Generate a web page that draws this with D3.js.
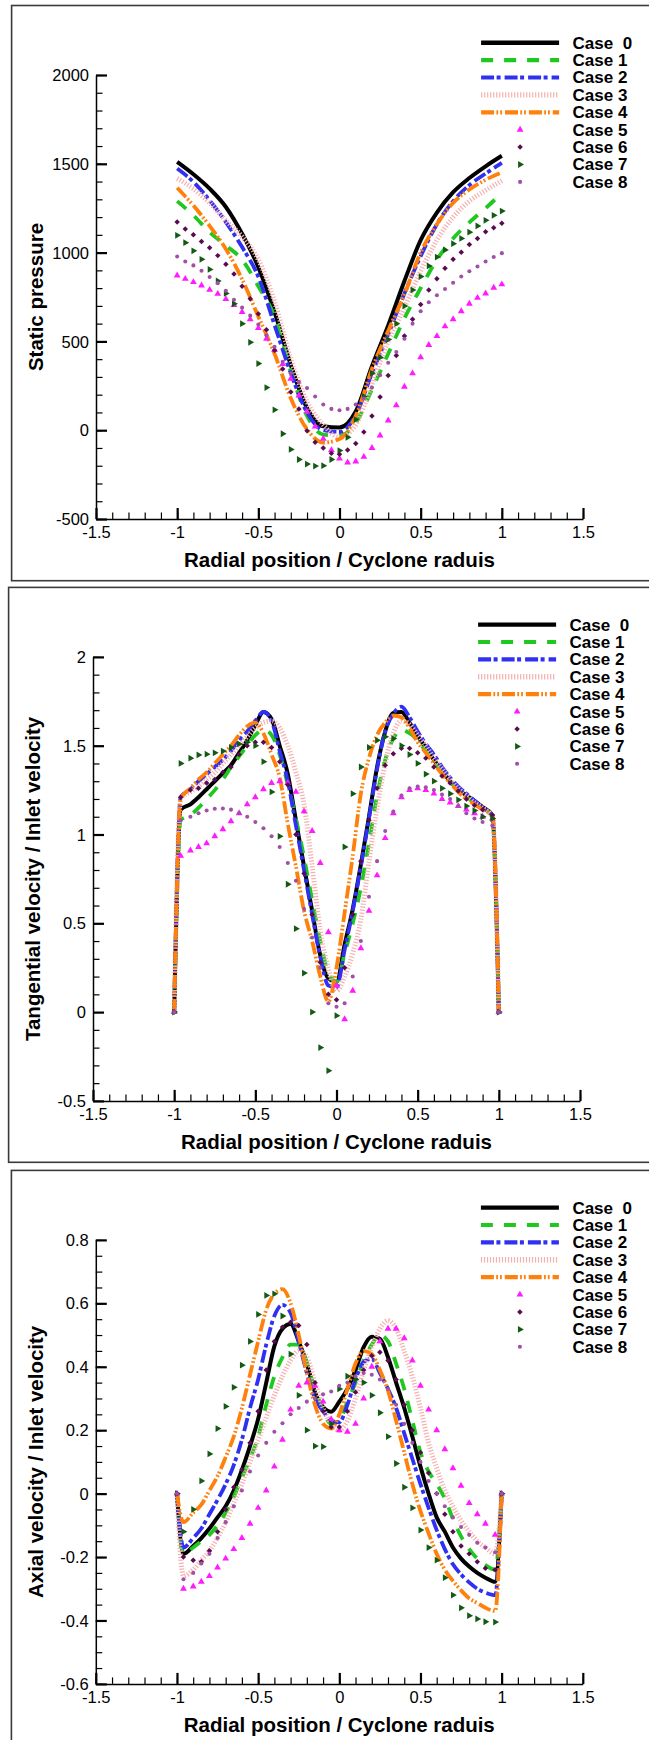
<!DOCTYPE html>
<html>
<head>
<meta charset="utf-8">
<script src="https://cdnjs.cloudflare.com/ajax/libs/d3/7.8.5/d3.min.js"></script>
<style>
body { margin: 0; background: #ffffff; }
svg { display: block; font-family: "Liberation Sans", Arial, sans-serif; }
</style>
</head>
<body>
<div id="chart"></div>
<script>
var w = 649; var h = 1740;

var caseNames = ['Case  0', 'Case 1', 'Case 2', 'Case 3', 'Case 4', 'Case 5', 'Case 6', 'Case 7', 'Case 8'];

// radial positions (r / R)
var radial10 = [-1, -0.9, -0.8, -0.7, -0.6, -0.5, -0.4, -0.3, -0.2, -0.1, 0, 0.1, 0.2, 0.3, 0.4, 0.5, 0.6, 0.7, 0.8, 0.9, 1];
var radial05 = [-1, -0.95, -0.9, -0.85, -0.8, -0.75, -0.7, -0.65, -0.6, -0.55, -0.5, -0.45, -0.4, -0.35, -0.3, -0.25, -0.2, -0.15, -0.1, -0.05,
	0, 0.05, 0.1, 0.15, 0.2, 0.25, 0.3, 0.35, 0.4, 0.45, 0.5, 0.55, 0.6, 0.65, 0.7, 0.75, 0.8, 0.85, 0.9, 0.95, 1];
var radialWall = [-1, -0.96, -0.9, -0.85, -0.8, -0.75, -0.7, -0.65, -0.6, -0.55, -0.5, -0.45, -0.4, -0.35, -0.3, -0.25, -0.2, -0.15, -0.1, -0.05,
	0, 0.05, 0.1, 0.15, 0.2, 0.25, 0.3, 0.35, 0.4, 0.45, 0.5, 0.55, 0.6, 0.65, 0.7, 0.75, 0.8, 0.85, 0.9, 0.96, 1];

var xTicks = [-1.5, -1, -0.5, 0, 0.5, 1, 1.5];
var pressureTicks = [-500, 0, 500, 1000, 1500, 2000];
var tangentialTicks = [-0.5, 0, 0.5, 1, 1.5, 2];
var axialTicks = [-0.6, -0.4, -0.2, 0, 0.2, 0.4, 0.6, 0.8];

// static pressure, lines on radial10, markers on radial05
var p1Case0 = [1511, 1441, 1360, 1257, 1106, 918, 665, 367, 125, 22, 15, 105, 360, 590, 840, 1070, 1225, 1340, 1420, 1486, 1545];
var p1Case1 = [1290, 1210, 1115, 1040, 960, 810, 640, 330, 80, -25, -30, 40, 230, 430, 630, 800, 960, 1080, 1170, 1250, 1335];
var p1Case2 = [1473, 1398, 1294, 1172, 1031, 864, 592, 321, 100, 0, -10, 85, 320, 540, 770, 980, 1160, 1290, 1380, 1445, 1505];
var p1Case3 = [1417, 1360, 1280, 1180, 1090, 960, 723, 401, 160, 30, -40, 30, 260, 500, 690, 896, 1070, 1200, 1290, 1350, 1405];
var p1Case4 = [1365, 1265, 1150, 1020, 850, 640, 430, 180, 5, -70, -50, 80, 345, 560, 765, 1000, 1160, 1280, 1355, 1410, 1452];
var p1Case5 = [871, 852, 834, 815, 790, 768, 738, 705, 665, 625, 575, 515, 452, 373, 290, 195, 105, 20, -48, -112,
	-160, -182, -176, -150, -100, -30, 55, 140, 245, 320, 410, 480, 530, 585, 625, 670, 712, 745, 770, 802, 821];
var p1Case6 = [1172, 1133, 1100, 1063, 1027, 983, 935, 880, 810, 740, 655, 566, 450, 345, 215, 120, -3, -68, -100, -130,
	-135, -112, -75, -10, 80, 187, 308, 420, 530, 625, 708, 790, 853, 912, 962, 1002, 1045, 1080, 1117, 1140, 1165];
var p1Case7 = [1097, 1056, 1010, 962, 905, 840, 770, 712, 600, 495, 375, 240, 115, -20, -108, -165, -191, -202, -200, -165,
	-115, -40, 60, 190, 320, 410, 510, 600, 700, 790, 865, 925, 975, 1015, 1050, 1080, 1115, 1150, 1182, 1210, 1234];
var p1Case8 = [978, 950, 928, 898, 863, 828, 785, 735, 690, 645, 595, 535, 470, 385, 320, 272, 237, 190, 145, 120,
	112, 120, 145, 178, 240, 310, 380, 440, 515, 600, 670, 720, 760, 795, 830, 865, 895, 922, 950, 975, 997];

// tangential velocity, all on radialWall
var p2Case0 = [0, 1.14, 1.17, 1.21, 1.255, 1.30, 1.345, 1.39, 1.46, 1.53, 1.617, 1.69, 1.65, 1.50, 1.34, 1.08, 0.82, 0.57, 0.32, 0.19,
	0.17, 0.38, 0.58, 0.83, 1.10, 1.38, 1.58, 1.685, 1.69, 1.63, 1.555, 1.49, 1.42, 1.36, 1.30, 1.255, 1.22, 1.19, 1.155, 1.11, 0];
var p2Case1 = [0, 1.08, 1.11, 1.15, 1.20, 1.25, 1.31, 1.38, 1.44, 1.50, 1.56, 1.59, 1.56, 1.45, 1.28, 1.09, 0.87, 0.63, 0.40, 0.22,
	0.17, 0.33, 0.50, 0.70, 0.95, 1.22, 1.42, 1.54, 1.59, 1.57, 1.53, 1.47, 1.41, 1.35, 1.30, 1.25, 1.21, 1.18, 1.15, 1.10, 0];
var p2Case2 = [0, 1.21, 1.255, 1.30, 1.34, 1.38, 1.42, 1.47, 1.53, 1.58, 1.64, 1.69, 1.64, 1.47, 1.30, 1.05, 0.80, 0.55, 0.31, 0.15,
	0.14, 0.35, 0.57, 0.82, 1.09, 1.37, 1.58, 1.68, 1.72, 1.66, 1.58, 1.51, 1.45, 1.38, 1.32, 1.27, 1.23, 1.19, 1.15, 1.11, 0];
var p2Case3 = [0, 1.20, 1.24, 1.27, 1.31, 1.35, 1.40, 1.45, 1.50, 1.55, 1.60, 1.63, 1.64, 1.60, 1.50, 1.35, 1.17, 0.82, 0.46, 0.24,
	0.12, 0.20, 0.33, 0.52, 0.85, 1.15, 1.40, 1.57, 1.64, 1.62, 1.56, 1.50, 1.43, 1.37, 1.31, 1.26, 1.22, 1.18, 1.15, 1.10, 0];
var p2Case4 = [0, 1.20, 1.26, 1.31, 1.35, 1.40, 1.45, 1.50, 1.56, 1.61, 1.63, 1.57, 1.45, 1.32, 1.06, 0.82, 0.57, 0.40, 0.20, 0.06,
	0.25, 0.56, 0.88, 1.23, 1.43, 1.56, 1.63, 1.67, 1.66, 1.60, 1.52, 1.46, 1.40, 1.34, 1.29, 1.24, 1.20, 1.17, 1.14, 1.11, 0];
var p2Case5 = [0, 0.88, 0.91, 0.93, 0.95, 0.99, 1.03, 1.075, 1.12, 1.17, 1.21, 1.255, 1.29, 1.30, 1.29, 1.24, 1.13, 1.02, 0.84, 0.45,
	0.15, -0.04, 0.12, 0.36, 0.57, 0.77, 0.98, 1.12, 1.21, 1.25, 1.26, 1.25, 1.23, 1.20, 1.18, 1.16, 1.14, 1.12, 1.10, 1.09, 0];
var p2Case6 = [0, 1.21, 1.25, 1.26, 1.29, 1.31, 1.35, 1.38, 1.45, 1.50, 1.52, 1.52, 1.49, 1.41, 1.28, 1.00, 0.78, 0.55, 0.28, 0.10,
	0.07, 0.25, 0.55, 0.85, 1.08, 1.26, 1.39, 1.455, 1.485, 1.485, 1.46, 1.43, 1.38, 1.33, 1.29, 1.245, 1.20, 1.165, 1.14, 1.11, 0];
var p2Case7 = [0, 1.40, 1.43, 1.448, 1.452, 1.46, 1.47, 1.49, 1.51, 1.52, 1.50, 1.41, 1.24, 0.99, 0.72, 0.47, 0.22, 0.0, -0.20, -0.33,
	-0.02, 0.93, 1.23, 1.38, 1.49, 1.53, 1.55, 1.54, 1.50, 1.45, 1.40, 1.34, 1.30, 1.26, 1.23, 1.195, 1.16, 1.135, 1.10, 1.09, 0];
var p2Case8 = [0, 1.08, 1.10, 1.12, 1.135, 1.145, 1.146, 1.14, 1.12, 1.10, 1.07, 1.035, 0.99, 0.93, 0.84, 0.74, 0.58, 0.42, 0.25, 0.05,
	0.03, 0.05, 0.20, 0.40, 0.65, 0.85, 1.02, 1.13, 1.22, 1.26, 1.27, 1.266, 1.25, 1.225, 1.20, 1.16, 1.12, 1.09, 1.07, 1.05, 0];

// axial velocity, all on radialWall
var p3Case0 = [0, -0.19, -0.165, -0.14, -0.11, -0.075, -0.04, 0.01, 0.075, 0.15, 0.235, 0.35, 0.465, 0.52, 0.535, 0.48, 0.41, 0.32, 0.273, 0.258,
	0.29, 0.33, 0.39, 0.462, 0.495, 0.488, 0.43, 0.35, 0.27, 0.18, 0.085, 0.0, -0.075, -0.12, -0.17, -0.205, -0.23, -0.25, -0.265, -0.278, 0];
var p3Case1 = [0, -0.19, -0.17, -0.15, -0.13, -0.10, -0.06, -0.01, 0.05, 0.11, 0.18, 0.28, 0.37, 0.43, 0.47, 0.47, 0.41, 0.33, 0.26, 0.22,
	0.23, 0.29, 0.35, 0.42, 0.47, 0.50, 0.48, 0.41, 0.33, 0.23, 0.13, 0.07, 0.03, -0.015, -0.08, -0.135, -0.175, -0.205, -0.225, -0.24, 0];
var p3Case2 = [0, -0.17, -0.14, -0.11, -0.065, -0.02, 0.03, 0.09, 0.17, 0.27, 0.36, 0.47, 0.56, 0.595, 0.57, 0.48, 0.38, 0.30, 0.26, 0.23,
	0.225, 0.28, 0.36, 0.415, 0.425, 0.38, 0.33, 0.27, 0.19, 0.11, 0.03, -0.045, -0.115, -0.175, -0.223, -0.255, -0.28, -0.30, -0.312, -0.32, 0];
var p3Case3 = [0, -0.26, -0.24, -0.21, -0.18, -0.14, -0.09, -0.03, 0.03, 0.10, 0.17, 0.24, 0.31, 0.37, 0.42, 0.45, 0.43, 0.35, 0.27, 0.22,
	0.20, 0.23, 0.30, 0.39, 0.46, 0.52, 0.545, 0.52, 0.45, 0.37, 0.27, 0.16, 0.08, 0.01, -0.04, -0.085, -0.12, -0.15, -0.17, -0.19, 0];
var p3Case4 = [0, -0.09, -0.06, -0.035, 0.01, 0.055, 0.115, 0.18, 0.27, 0.375, 0.48, 0.58, 0.63, 0.645, 0.60, 0.50, 0.38, 0.28, 0.22, 0.205,
	0.25, 0.33, 0.41, 0.45, 0.44, 0.39, 0.325, 0.23, 0.13, 0.03, -0.055, -0.125, -0.19, -0.24, -0.275, -0.305, -0.33, -0.345, -0.36, -0.37, 0];
var p3Case5 = [0, -0.30, -0.293, -0.278, -0.26, -0.233, -0.205, -0.175, -0.14, -0.095, -0.045, 0.01, 0.085, 0.17, 0.265, 0.34, 0.35, 0.34, 0.29, 0.235,
	0.20, 0.195, 0.22, 0.30, 0.40, 0.48, 0.52, 0.52, 0.49, 0.42, 0.34, 0.265, 0.20, 0.14, 0.08, 0.025, -0.03, -0.065, -0.095, -0.13, 0];
var p3Case6 = [0, -0.20, -0.21, -0.215, -0.18, -0.12, -0.05, 0.02, 0.075, 0.16, 0.26, 0.39, 0.48, 0.525, 0.54, 0.53, 0.47, 0.35, 0.26, 0.21,
	0.21, 0.26, 0.32, 0.39, 0.435, 0.446, 0.42, 0.36, 0.28, 0.20, 0.13, 0.065, 0.0, -0.065, -0.12, -0.165, -0.19, -0.215, -0.235, -0.24, 0];
var p3Case7 = [0, -0.12, -0.05, 0.04, 0.125, 0.205, 0.275, 0.335, 0.405, 0.48, 0.565, 0.625, 0.63, 0.56, 0.44, 0.31, 0.20, 0.15, 0.148, 0.22,
	0.33, 0.37, 0.36, 0.35, 0.31, 0.255, 0.18, 0.095, 0.02, -0.045, -0.115, -0.17, -0.21, -0.265, -0.32, -0.36, -0.385, -0.395, -0.404, -0.405, 0];
var p3Case8 = [0, -0.27, -0.25, -0.22, -0.19, -0.14, -0.09, -0.04, 0.01, 0.07, 0.12, 0.16, 0.195, 0.222, 0.25, 0.27, 0.29, 0.30, 0.313, 0.322,
	0.34, 0.35, 0.37, 0.38, 0.375, 0.36, 0.33, 0.28, 0.22, 0.16, 0.10, 0.04, 0.0, -0.04, -0.075, -0.105, -0.13, -0.155, -0.17, -0.185, 0];

var styles = [
	{kind: 'line', color: '#000000', width: 4, dash: null},
	{kind: 'line', color: '#1ec81e', width: 3.8, dash: '12,11'},
	{kind: 'line', color: '#3030f2', width: 3.8, dash: '13,2.5,4,4'},
	{kind: 'line', color: '#f6b0b0', width: 5, dash: '1.2,1.8'},
	{kind: 'line', color: '#ff800a', width: 3.8, dash: '13,2.3,1.8,2,1.8,3'},
	{kind: 'mark', color: '#ff1aff', type: d3.symbolTriangle, size: 20, rot: 0},
	{kind: 'mark', color: '#5a0a50', type: d3.symbolSquare, size: 15, rot: 45},
	{kind: 'mark', color: '#145a14', type: d3.symbolTriangle, size: 20, rot: 90},
	{kind: 'mark', color: '#a050a5', type: d3.symbolCircle, size: 13, rot: 0}
];

var panels = [
	{left: 11.6, top: 5.5, bottom: 580.7, yDomain: [-500, 2000], yTicks: pressureTicks, yMinorStep: 100,
		title: 'Static pressure', lineX: radial10, markX: radial05,
		series: [p1Case0, p1Case1, p1Case2, p1Case3, p1Case4, p1Case5, p1Case6, p1Case7, p1Case8]},
	{left: 8.6, top: 587.4, bottom: 1162.3, yDomain: [-0.5, 2], yTicks: tangentialTicks, yMinorStep: 0.1,
		title: 'Tangential velocity / Inlet velocity', lineX: radialWall, markX: radialWall,
		series: [p2Case0, p2Case1, p2Case2, p2Case3, p2Case4, p2Case5, p2Case6, p2Case7, p2Case8]},
	{left: 11.4, top: 1170.4, bottom: 1760, yDomain: [-0.6, 0.8], yTicks: axialTicks, yMinorStep: 0.05,
		title: 'Axial velocity / Inlet velocity', lineX: radialWall, markX: radialWall,
		series: [p3Case0, p3Case1, p3Case2, p3Case3, p3Case4, p3Case5, p3Case6, p3Case7, p3Case8]}
];

var svg = d3.select('#chart')
			.append('svg')
			.attr('width', w)
			.attr('height', h);

function minorValues(domain, step) {
	var n = Math.round((domain[1] - domain[0]) / step);
	return d3.range(n + 1).map(function(i) { return domain[0] + i * step; });
}

function markPath(st) {
	return d3.symbol().type(st.type).size(st.size)();
}

function drawPanel(p) {
	var g = svg.append('g');

	g.append('rect')
		.attr('x', p.left)
		.attr('y', p.top)
		.attr('width', w + 6 - p.left)
		.attr('height', p.bottom - p.top)
		.attr('fill', 'none')
		.attr('stroke', '#3a3a3a')
		.attr('stroke-width', 1.6);

	var x0 = p.left + 84.4;
	var y0 = p.top + 69.5;
	var x = d3.scaleLinear().domain([-1.5, 1.5]).range([x0, x0 + 487]);
	var y = d3.scaleLinear().domain(p.yDomain).range([y0 + 444, y0]);

	// minor ticks
	g.append('g')
		.attr('transform', 'translate(0,' + (y0 + 444) + ')')
		.call(d3.axisBottom(x).tickValues(minorValues([-1.5, 1.5], 0.1)).tickSize(-6.5).tickFormat(''))
		.call(function(a) { a.select('.domain').remove(); a.selectAll('line').attr('stroke-width', 1.2); });
	g.append('g')
		.attr('transform', 'translate(' + x0 + ',0)')
		.call(d3.axisLeft(y).tickValues(minorValues(p.yDomain, p.yMinorStep)).tickSize(-6.5).tickFormat(''))
		.call(function(a) { a.select('.domain').remove(); a.selectAll('line').attr('stroke-width', 1.2); });

	// major ticks
	var xa = g.append('g')
		.attr('transform', 'translate(0,' + (y0 + 444) + ')')
		.call(d3.axisBottom(x).tickValues(xTicks).tickSizeInner(-11).tickSizeOuter(0).tickPadding(7)
			.tickFormat(function(d) { return String(d); }));
	var ya = g.append('g')
		.attr('transform', 'translate(' + x0 + ',0)')
		.call(d3.axisLeft(y).tickValues(p.yTicks).tickSizeInner(-11).tickSizeOuter(0).tickPadding(7)
			.tickFormat(function(d) { return String(d); }));
	[xa, ya].forEach(function(a) {
		a.select('.domain').attr('stroke-width', 1.5);
		a.selectAll('.tick line').attr('stroke-width', 2.2);
		a.selectAll('text').attr('font-size', '16.5px').attr('fill', '#000');
		a.attr('font-family', null);
	});
	ya.selectAll('text').attr('dy', '0.34em');

	// axis titles
	g.append('text')
		.attr('x', x0 + 243.5)
		.attr('y', p.top + 561.5)
		.attr('text-anchor', 'middle')
		.attr('font-size', '20.5px')
		.attr('font-weight', 'bold')
		.text('Radial position / Cyclone raduis');
	g.append('text')
		.attr('transform', 'translate(' + (p.left + 31.5) + ',' + (y0 + 222) + ') rotate(-90)')
		.attr('text-anchor', 'middle')
		.attr('font-size', '20.5px')
		.attr('font-weight', 'bold')
		.text(p.title);

	// series
	p.series.forEach(function(vals, i) {
		var st = styles[i];
		if (st.kind === 'line') {
			var line = d3.line()
						.x(function(d, j) { return x(p.lineX[j]); })
						.y(function(d) { return y(d); })
						.curve(d3.curveMonotoneX);
			g.append('path')
				.attr('d', line(vals))
				.attr('fill', 'none')
				.attr('stroke', st.color)
				.attr('stroke-width', st.width)
				.attr('stroke-dasharray', st.dash)
				.attr('stroke-linejoin', 'round');
		} else {
			g.append('g').selectAll('path')
				.data(vals)
				.enter()
				.append('path')
				.attr('d', markPath(st))
				.attr('fill', st.color)
				.attr('transform', function(d, j) {
					return 'translate(' + x(p.markX[j]) + ',' + y(d) + ') rotate(' + st.rot + ')';
				});
		}
	});

	// legend
	var leg = g.append('g');
	caseNames.forEach(function(name, i) {
		var st = styles[i];
		var ly = p.top + 37.2 + i * 17.4;
		if (st.kind === 'line') {
			leg.append('line')
				.attr('x1', p.left + 469.5)
				.attr('x2', p.left + 547.5)
				.attr('y1', ly)
				.attr('y2', ly)
				.attr('stroke', st.color)
				.attr('stroke-width', st.width + 0.4)
				.attr('stroke-dasharray', st.dash);
		} else {
			leg.append('path')
				.attr('d', markPath(st))
				.attr('fill', st.color)
				.attr('transform', 'translate(' + (p.left + 508.5) + ',' + ly + ') rotate(' + st.rot + ')');
		}
		leg.append('text')
			.attr('x', p.left + 561)
			.attr('y', ly)
			.attr('dy', '0.35em')
			.attr('font-size', '17px')
			.attr('font-weight', 'bold')
			.attr('xml:space', 'preserve')
			.style('white-space', 'pre')
			.text(name);
	});
}

panels.forEach(drawPanel);
</script>
</body>
</html>
